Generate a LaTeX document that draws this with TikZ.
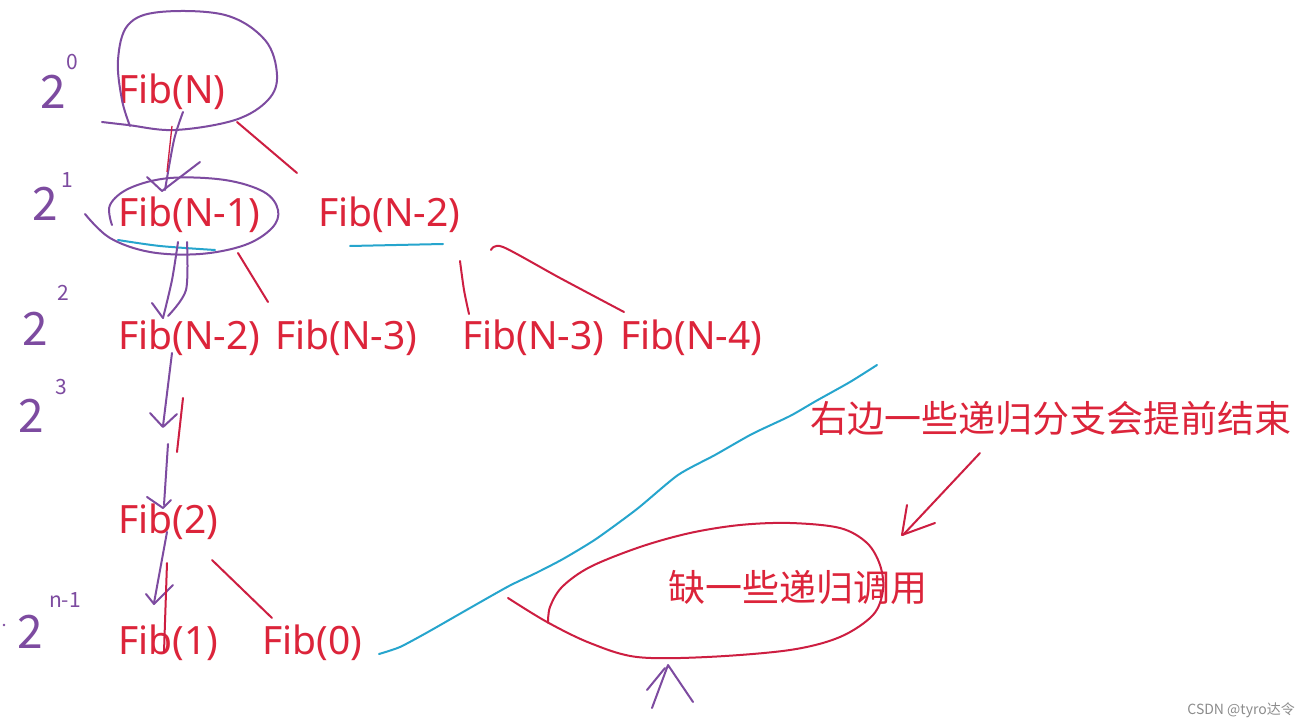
\documentclass[tikz,border=0pt]{standalone}
\usepackage{fontspec}
\setmainfont{Noto Sans}
\newfontfamily\cjk{Noto Sans CJK SC}
\definecolor{tred}{RGB}{220,36,58}
\definecolor{lred}{RGB}{205,30,65}
\definecolor{pur}{RGB}{125,75,160}
\definecolor{blu}{RGB}{38,165,205}
\definecolor{wm}{RGB}{140,140,140}
\begin{document}
\begin{tikzpicture}[x=1pt,y=-1pt,
  fib/.style={text=tred,font=\fontsize{39}{41}\selectfont,anchor=west,inner sep=0pt},
  zh/.style={text=tred,font=\cjk\fontsize{37}{40}\selectfont,anchor=west,inner sep=0pt},
  two/.style={text=pur,font=\cjk\fontsize{46}{48}\selectfont,inner sep=0pt},
  ex/.style={text=pur,font=\cjk\fontsize{21}{22}\selectfont,inner sep=0pt},
  rl/.style={draw=lred,line width=2pt,line cap=round,line join=round},
  pl/.style={draw=pur,line width=2pt,line cap=round,line join=round},
  bl/.style={draw=blu,line width=2pt,line cap=round,line join=round}]
\useasboundingbox (0,0) rectangle (1311,727);
\fill[white] (0,0) rectangle (1311,727);

% texts
\node[fib] (fn)  at (118,92)  {Fib(N)};
\node[fib] (fn1) at (118,215) {Fib(N-1)};
\node[fib] (fn2) at (318,215) {Fib(N-2)};
\node[fib] (fa)  at (118,338) {Fib(N-2)};
\node[fib] (fb)  at (275,338) {Fib(N-3)};
\node[fib] (fc)  at (462,338) {Fib(N-3)};
\node[fib] (fd)  at (620,338) {Fib(N-4)};
\node[fib] (f2)  at (118,522) {Fib(2)};
\node[fib] (f1)  at (118,643) {Fib(1)};
\node[fib] (f0)  at (262,643) {Fib(0)};
\node[zh] (t1) at (810,418) {右边一些递归分支会提前结束};
\node[zh] (t2) at (668,587) {缺一些递归调用};
\node[text=wm,font=\cjk\fontsize{14}{15}\selectfont,anchor=east,inner sep=0pt] (wmk) at (1295,710) {CSDN @tyro达令};

% level labels
\node[two] (l0) at (53,92) {2};  \node[ex] (e0) at (72,62) {0};
\node[two] (l1) at (45,204) {2}; \node[ex] (e1) at (67,180) {1};
\node[two] (l2) at (35,329) {2}; \node[ex] (e2) at (63,293) {2};
\node[two] (l3) at (31,416) {2}; \node[ex] (e3) at (61,387) {3};
\node[two] (l4) at (30,632) {2}; \node[ex] (e4) at (65,600) {n-1};
\fill[pur] (4,625) circle (1.3);

% purple blob round Fib(N)
\draw[pl] plot[smooth,tension=0.6] coordinates {(102,122) (128,125) (175,130) (235,120) (268,100) (277,75) (265,40) (225,15) (160,12) (128,25) (118,60) (122,100) (130,126)};
% arrow Fib(N) -> Fib(N-1)
\draw[pl] plot[smooth] coordinates {(183,112) (174,140) (165,190)};
\draw[pl] (147,177) -- (162,191) -- (200,162);
\draw[draw=lred,line width=1.3pt] (172,126) -- (167,172);
% ellipse round Fib(N-1)
\draw[pl] plot[smooth,tension=0.6] coordinates {(85,214) (110,238) (150,252) (200,254) (245,245) (272,228) (278,210) (264,192) (225,180) (170,178) (130,188) (110,205) (112,225)};
\draw[bl] plot[smooth] coordinates {(118,240) (160,246) (215,250)};
% arrow Fib(N-1) -> Fib(N-2)
\draw[pl] plot[smooth] coordinates {(178,242) (172,280) (163,318)};
\draw[pl] plot[smooth] coordinates {(187,242) (186,290) (168,316)};
\draw[pl] (152,303) -- (163,318);
% arrow Fib(N-2) -> dots
\draw[pl] (172,353) -- (163,426);
\draw[pl] (150,413) -- (163,427) -- (177,414);
\draw[rl] (183,398) -- (177,452);
% dots -> Fib(2)
\draw[pl] (168,444) -- (164,505);
\draw[pl] (147,497) -- (163,508) -- (171,500);
% Fib(2) -> Fib(1)
\draw[pl] (167,532) -- (154,603);
\draw[pl] (146,594) -- (154,604) -- (173,585);
\draw[rl] (167,563) -- (164,652);

% red tree lines
\draw[rl] (237,122) -- (297,173);
\draw[rl] (238,253) -- (268,302);
\draw[bl] (350,246) -- (443,244);
\draw[rl] plot[smooth] coordinates {(460,261) (464,290) (469,314)};
\draw[rl] plot[smooth] coordinates {(491,250) (503,247) (560,278) (624,312)};
\draw[rl] (212,560) -- (272,618);

% blue long line
\draw[bl] plot[smooth,tension=0.4] coordinates {(379,654) (400,647) (428,632) (470,608) (509,586) (536,573) (563,559) (596,539) (637,509) (678,475) (715,455) (752,434) (790,416) (816,401) (850,382) (877,365)};

% red loop
\draw[rl] plot[smooth,tension=0.55] coordinates {(508,598) (547,622) (590,643) (637,657) (707,657) (790,650) (840,637) (873,615) (883,590) (880,565) (867,543) (840,528) (790,523) (740,525) (690,533) (640,547) (590,567) (562,587) (550,607) (548,623)};
% red arrow
\draw[rl] (980,453) -- (903,535);
\draw[rl] (907,505) -- (902,535) -- (935,523);
% purple arrow at bottom
\draw[pl] (652,708) -- (668,665) -- (693,702);
\draw[pl] (647,690) -- (665,668);
\end{tikzpicture}
\end{document}
